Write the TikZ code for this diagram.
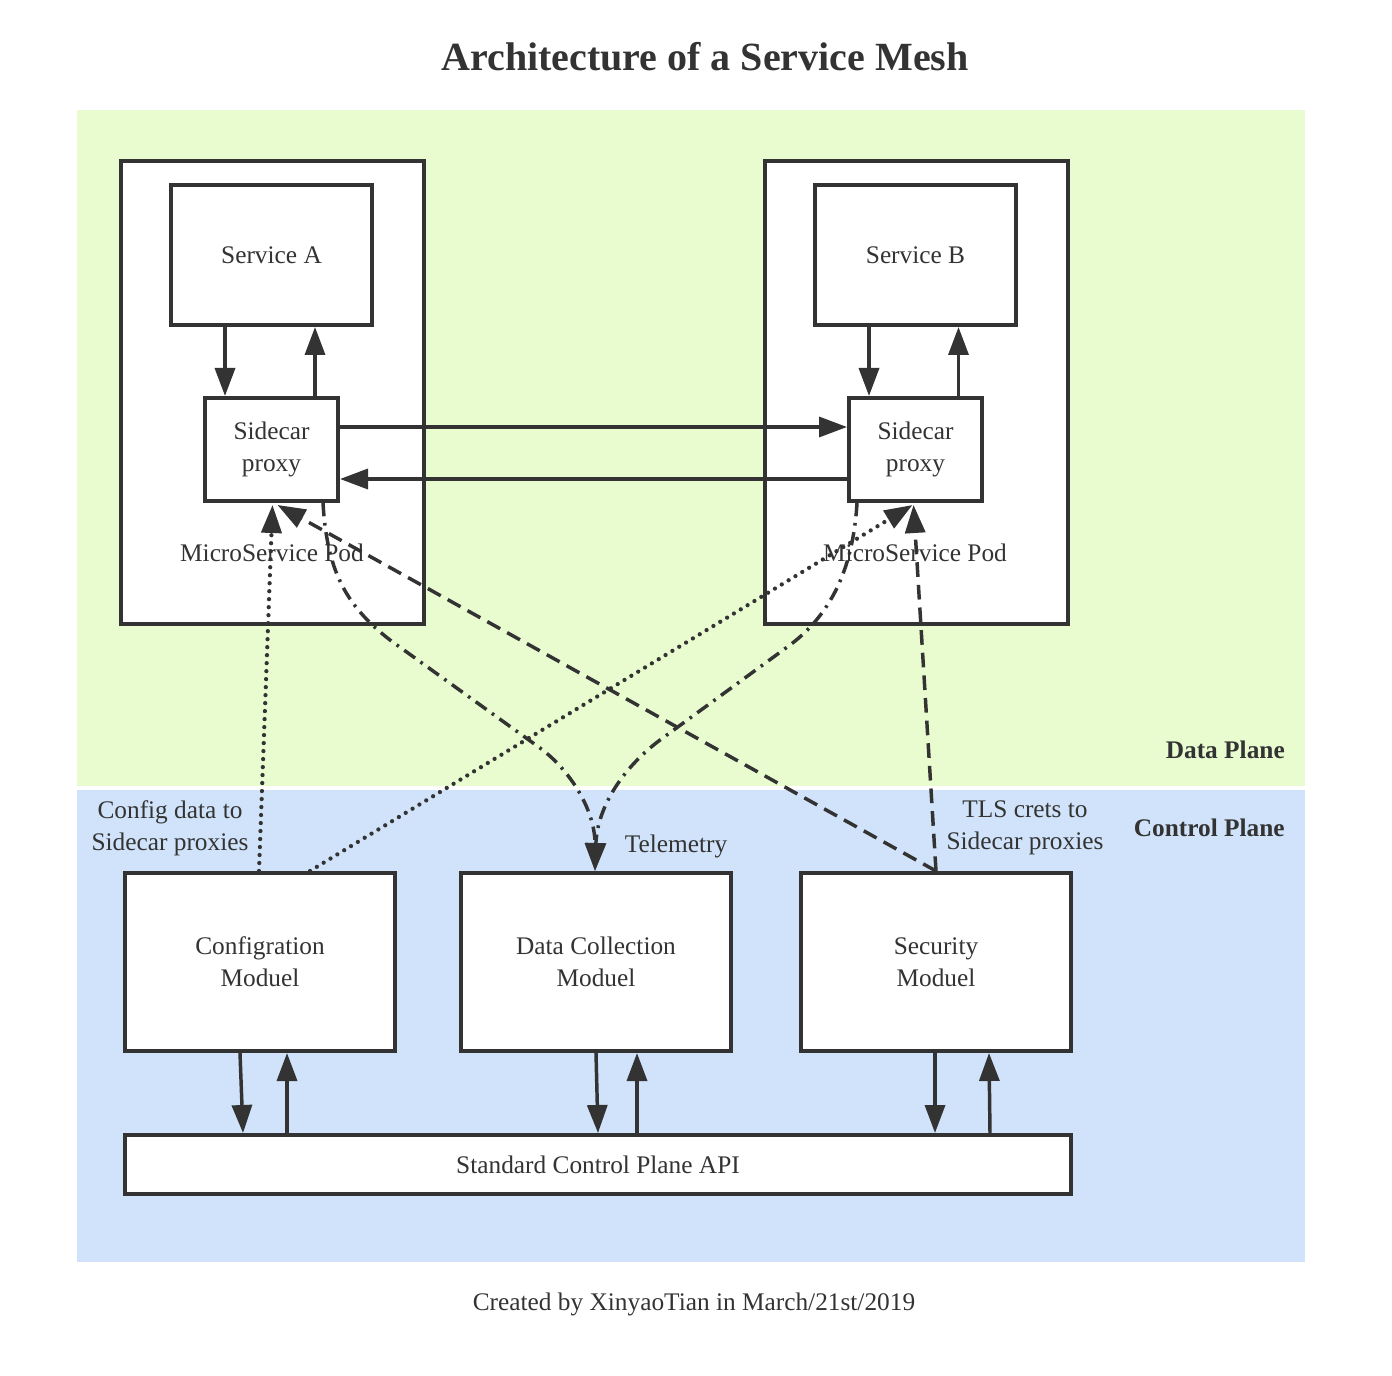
\documentclass[tikz,border=0pt]{standalone}
\usepackage{fontspec}
\setmainfont{Liberation Serif}
\usetikzlibrary{arrows.meta,calc,positioning}

\definecolor{ink}{RGB}{51,51,51}
\definecolor{dataplane}{RGB}{232,252,208}
\definecolor{ctrlplane}{RGB}{208,227,250}

\begin{document}
\begin{tikzpicture}[x=0.75pt,y=0.75pt,yscale=-1,xscale=1,
  txt/.style={text=ink,inner sep=0pt,align=center,font=\fontsize{19}{24}\selectfont},
  box/.style={txt,draw=ink,line width=3pt,fill=white},
  arr/.style={draw=ink,line width=2.6pt,-{Triangle[length=21pt,width=15pt]}},
  cfgline/.style={arr,line width=3.2pt,line cap=round,dash pattern=on 0pt off 6pt},
  tlsline/.style={arr,dash pattern=on 11pt off 6pt},
  telline/.style={arr,dash pattern=on 10pt off 5pt on 2pt off 5pt}]
\useasboundingbox (0,0) rectangle (1392,1376);

%Shape: Planes
\fill[dataplane] (77,110) rectangle (1305,786);
\fill[ctrlplane] (77,790) rectangle (1305,1262);

% Title
\node[txt,font=\fontsize{30}{36}\selectfont\bfseries] (title) at (705,57) {Architecture of a Service Mesh};

%Shape: MicroService Pods
\node[box,minimum width=227.25pt,minimum height=347.25pt] (podA) at (272.5,392.5) {};
\node[box,minimum width=227.25pt,minimum height=347.25pt] (podB) at (916.5,392.5) {};
%Shape: Services
\node[box,minimum width=150.75pt,minimum height=105pt] (svcA) at (271.5,255) {Service A};
\node[box,minimum width=150.75pt,minimum height=105pt] (svcB) at (915.5,255) {Service B};
%Shape: Sidecar proxies
\node[box,minimum width=99.75pt,minimum height=77.25pt] (sideA) at (271.5,449.5) {Sidecar\\proxy};
\node[box,minimum width=99.75pt,minimum height=77.25pt] (sideB) at (915.5,449.5) {Sidecar\\proxy};
% Text Node
\node[txt] (podlblA) at (272,553) {MicroService Pod};
\node[txt] (podlblB) at (915,553) {MicroService Pod};

%Shape: Control plane modules
\node[box,minimum width=202.5pt,minimum height=133.5pt] (cfg) at (260,962) {Configration\\Moduel};
\node[box,minimum width=202.5pt,minimum height=133.5pt] (dat) at (596,962) {Data Collection\\Moduel};
\node[box,minimum width=202.5pt,minimum height=133.5pt] (sec) at (936,962) {Security\\Moduel};
\node[box,minimum width=709.5pt,minimum height=44.25pt] (api) at (598,1164.5) {Standard Control Plane API};

%Straight Lines: service <-> sidecar
\draw[arr] ($(svcA.south)+(-46.5,0)$) -- ($(sideA.north)+(-46.5,0)$);
\draw[arr] ($(sideA.north)+(43.5,0)$) -- ($(svcA.south)+(43.5,0)$);
\draw[arr] ($(svcB.south)+(-46.5,0)$) -- ($(sideB.north)+(-46.5,0)$);
\draw[arr] ($(sideB.north)+(43,0)$) -- ($(svcB.south)+(43,0)$);
%Straight Lines: sidecar <-> sidecar
\draw[arr] ($(sideA.east)+(0,-22.5)$) -- ($(sideB.west)+(0,-22.5)$);
\draw[arr] ($(sideB.west)+(0,29.5)$) -- ($(sideA.east)+(0,29.5)$);

%Straight Lines: modules <-> api
\draw[arr] ($(cfg.south)+(-20,0)$) -- ($(api.north)+(-355,0)$);
\draw[arr] ($(api.north)+(-311,0)$) -- ($(cfg.south)+(27,0)$);
\draw[arr] ($(dat.south)+(0,0)$) -- ($(api.north)+(0,0)$);
\draw[arr] ($(api.north)+(39,0)$) -- ($(dat.south)+(41,0)$);
\draw[arr] ($(sec.south)+(-1,0)$) -- ($(api.north)+(337,0)$);
\draw[arr] ($(api.north)+(392,0)$) -- ($(sec.south)+(53,0)$);

%Dotted: config data
\draw[cfgline] ($(cfg.north)+(-1,0)$) -- ($(sideA.south)+(1,2)$);
\draw[cfgline] ($(cfg.north)+(50,0)$) -- ($(sideB.south)+(-3,2)$);
%Dashed: TLS certs
\draw[tlsline] (sec.north) -- ($(sideA.south)+(6,2)$);
\draw[tlsline] (sec.north) -- ($(sideB.south)+(-2,2)$);
%Dash dot: telemetry
\draw[telline] ($(sideA.south)+(51.5,0)$) .. controls (327,570) and (345,605) .. (390,640)
  -- (540,748) .. controls (570,770) and (595,810) .. ($(dat.north)+(-1,0)$);
\draw[telline] ($(sideB.south)+(-58.5,0)$) .. controls (853,570) and (830,615) .. (790,645)
  -- (660,740) .. controls (620,770) and (597,810) .. ($(dat.north)+(-1,0)$);

% Text Node: connector labels
\node[txt] (cfglbl) at (170,828) {Config data to\\Sidecar proxies};
\node[txt] (tellbl) at (676,846) {Telemetry};
\node[txt] (tlslbl) at (1025,828) {TLS crets to\\Sidecar proxies};

% Text Node: plane names
\node[txt,anchor=east,font=\fontsize{19}{24}\selectfont\bfseries] (datalbl) at (1285,750) {Data Plane};
\node[txt,anchor=east,font=\fontsize{19}{24}\selectfont\bfseries] (ctrllbl) at (1285,828) {Control Plane};

% Text Node: footer
\node[txt] (footer) at (694,1304) {Created by XinyaoTian in March/21st/2019};

\end{tikzpicture}
\end{document}
